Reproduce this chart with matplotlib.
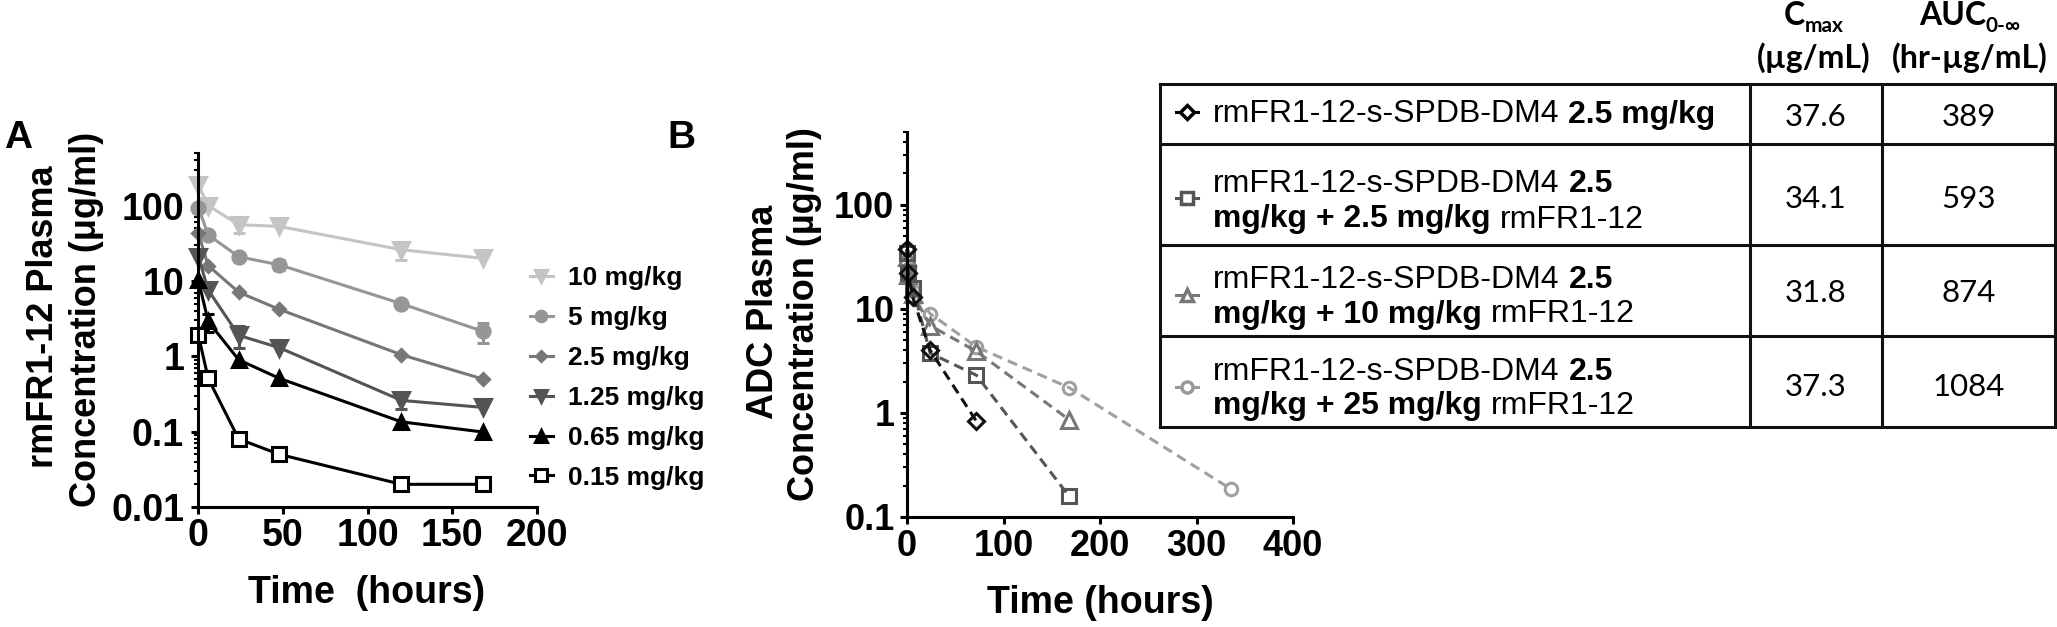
import matplotlib
matplotlib.use('Agg')
import matplotlib.pyplot as plt
from matplotlib.ticker import LogLocator, NullFormatter

plt.rcParams['font.family'] = ['Liberation Sans', 'DejaVu Sans']

# ---------------- data: panel A (rmFR1-12 antibody alone) ----------------
times_a = [0.25, 6, 24, 48, 120, 168]
dose_labels_a = ['10 mg/kg', '5 mg/kg', '2.5 mg/kg', '1.25 mg/kg', '0.65 mg/kg', '0.15 mg/kg']
conc_10 = [190, 100, 56, 53, 26, 20]
conc_5 = [94, 41, 21, 16.4, 5.0, 2.15]
conc_2_5 = [43, 16, 7.1, 4.2, 1.05, 0.5]
conc_1_25 = [21, 7.6, 1.9, 1.3, 0.26, 0.21]
conc_0_65 = [10.3, 2.9, 0.9, 0.51, 0.135, 0.099]
conc_0_15 = [1.9, 0.51, 0.08, 0.05, 0.02, 0.02]
err_10 = [0, 0, 12, 0, 7, 0]
err_5 = [0, 0, 0, 2.5, 0, 0.65]
err_2_5 = [0, 0, 0, 0, 0, 0]
err_1_25 = [0, 0, 0.6, 0, 0.06, 0]
err_0_65 = [0, 0.8, 0, 0, 0, 0]
err_0_15 = [0, 0, 0, 0, 0, 0]
xticks_a = [0, 50, 100, 150, 200]
yticks_a = [0.01, 0.1, 1, 10, 100]
ytick_labels_a = ['0.01', '0.1', '1', '10', '100']

# ---------------- data: panel B (ADC) ----------------
times_b = [0.083, 1, 6, 24, 72, 168, 336]
adc_alone = [37.6, 22.3, 12.9, 4.0, 0.83]
adc_plus_2_5 = [34.1, 22, 16, 3.75, 2.3, 0.158]
adc_plus_10 = [31.8, 21, 14, 6.9, 3.9, 0.86]
adc_plus_25 = [37.3, 24, 15, 9.0, 4.3, 1.75, 0.185]
xticks_b = [0, 100, 200, 300, 400]
yticks_b = [0.1, 1, 10, 100]
ytick_labels_b = ['0.1', '1', '10', '100']

# ---------------- data: table ----------------
table_drug = 'rmFR1-12-s-SPDB-DM4'
table_adc_dose = '2.5'
table_coadmin = ['', '2.5 mg/kg', '10 mg/kg', '25 mg/kg']
cmax_vals = ['37.6', '34.1', '31.8', '37.3']
auc_vals = ['389', '593', '874', '1084']

# ---------------- figure ----------------
W, H, DPI = 2057, 627, 100
fig = plt.figure(figsize=(W / DPI, H / DPI), dpi=DPI)


def fx(px):
    return px / W


def fy(py):
    return 1 - py / H


axA = fig.add_axes([fx(198), fy(507), (537 - 198) / W, (507 - 153) / H])
axB = fig.add_axes([fx(907), fy(517), (1293 - 907) / W, (517 - 132) / H])

SP_LW = 2.2
for ax in (axA, axB):
    ax.set_yscale('log')
    for s in ('top', 'right'):
        ax.spines[s].set_visible(False)
    for s in ('left', 'bottom'):
        ax.spines[s].set_linewidth(SP_LW)
    ax.tick_params(which='major', length=5, width=SP_LW, color='black')
    ax.tick_params(which='minor', length=3, width=1.5, color='black')
    ax.yaxis.set_minor_locator(LogLocator(base=10, subs=range(2, 10)))
    ax.yaxis.set_minor_formatter(NullFormatter())
    ax.xaxis.set_minor_locator(plt.NullLocator())
    ax.patch.set_visible(False)

# ---- Panel A ----
styles_a = [
    ('v', '#c4c4c4', 11, '#c4c4c4'),
    ('o', '#969696', 9.5, '#969696'),
    ('D', '#777777', 6.5, '#777777'),
    ('v', '#545454', 11, '#545454'),
    ('^', '#000000', 10, '#000000'),
    ('s', '#000000', 10, 'white'),
]
concs_a = [conc_10, conc_5, conc_2_5, conc_1_25, conc_0_65, conc_0_15]
errs_a = [err_10, err_5, err_2_5, err_1_25, err_0_65, err_0_15]
handles = []
for conc, err, (mk, col, ms, mfc), lab in zip(concs_a, errs_a, styles_a, dose_labels_a):
    idx = [i for i, e in enumerate(err) if e > 0]
    if idx:
        axA.errorbar([times_a[i] for i in idx], [conc[i] for i in idx],
                     yerr=[err[i] for i in idx], fmt='none', ecolor=col,
                     elinewidth=2.2, capsize=4.3, capthick=2.2, clip_on=False)
    ln, = axA.plot(times_a, conc, color=col, lw=2.2, marker=mk, ms=ms,
                   mfc=mfc, mec=col, mew=2.2, clip_on=False, label=lab)
    handles.append(ln)

axA.set_xlim(0, 200)
axA.set_ylim(0.01, 500)
axA.set_xticks(xticks_a)
axA.set_xticklabels([str(v) for v in xticks_a])
axA.set_yticks(yticks_a)
axA.set_yticklabels(ytick_labels_a)
axA.tick_params(axis='x', pad=3, labelsize=27)
axA.tick_params(axis='y', pad=5, labelsize=27)
for lbl in axA.get_xticklabels() + axA.get_yticklabels():
    lbl.set_fontweight('bold')

fig.legend(handles, dose_labels_a, loc='center left',
           bbox_to_anchor=(fx(530), fy(378)), frameon=False, borderpad=0,
           borderaxespad=0, handlelength=0.87, handletextpad=0.57,
           labelspacing=0.6, prop={'weight': 'bold', 'size': 19},
           markerscale=0.8)

# ---- Panel B ----
series_b = [
    (adc_plus_25, 'o', '#a0a0a0', 9),
    (adc_plus_10, '^', '#777777', 11),
    (adc_plus_2_5, 's', '#555555', 10),
    (adc_alone, 'D', '#111111', 8.5),
]
for vals, mk, col, ms in series_b:
    axB.plot(times_b[:len(vals)], vals, color=col, lw=2.2, ls=(0, (3.3, 2)),
             marker=mk, ms=ms, mfc='none', mec=col, mew=2.2, clip_on=False)
axB.set_xlim(0, 400)
axB.set_ylim(0.1, 500)
axB.set_xticks(xticks_b)
axB.set_xticklabels([str(v) for v in xticks_b])
axB.set_yticks(yticks_b)
axB.set_yticklabels(ytick_labels_b)
axB.tick_params(axis='x', pad=4, labelsize=26)
axB.tick_params(axis='y', pad=4, labelsize=26)
for lbl in axB.get_xticklabels() + axB.get_yticklabels():
    lbl.set_fontweight('bold')

# ---------------- overlay in pixel coordinates ----------------
ov = fig.add_axes([0, 0, 1, 1])
ov.set_xlim(0, W)
ov.set_ylim(H, 0)
ov.axis('off')
renderer = fig.canvas.get_renderer()

BOLD = dict(fontweight='bold', color='black')

# panel letters
ov.text(4, 148, 'A', fontsize=28, ha='left', va='baseline', **BOLD)
ov.text(667, 148, 'B', fontsize=28, ha='left', va='baseline', **BOLD)

# axis labels
ov.text(367, 603, 'Time  (hours)', fontsize=27, ha='center', va='baseline', **BOLD)
ov.text(1100, 613, 'Time (hours)', fontsize=27, ha='center', va='baseline', **BOLD)
for x, y, s in [(53, 317, 'rmFR1-12 Plasma'), (96, 319, 'Concentration (\u03bcg/ml)'),
                (773, 312, 'ADC Plasma'), (814, 314, 'Concentration (\u00b5g/ml)')]:
    ov.text(x, y, s, fontsize=26, rotation=90, rotation_mode='anchor',
            ha='center', va='baseline', **BOLD)


def width_of(s, kw):
    t = ov.text(0, 0, s, **kw)
    w = t.get_window_extent(renderer).width
    t.remove()
    return w


def text_run(x, y, pieces, align='left'):
    """pieces: list of (string, font kwargs, dy, gap_before_px)"""
    arts, widths = [], []
    for s, kw, dy, gap in pieces:
        t = ov.text(0, y + dy, s, ha='left', va='baseline', **kw)
        arts.append((t, gap))
        widths.append(gap + t.get_window_extent(renderer).width)
    total = sum(widths)
    cur = x - total / 2 if align == 'center' else x
    for (t, gap), w in zip(arts, widths):
        t.set_x(cur + gap)
        cur += w


FAM_T = ['Liberation Sans', 'DejaVu Sans']
FAM_H = ['Lato', 'DejaVu Sans']
N_T = dict(fontsize=23, family=FAM_T, color='black')
B_T = dict(fontsize=23, family=FAM_T, fontweight='bold', color='black')
gap_T = width_of('n n', N_T) - width_of('nn', N_T)

# table grid
t_left, t_c1, t_c2, t_right = 1160, 1750, 1882, 2055
row_edges = [84, 144, 245, 336, 427]
for yv in row_edges:
    ov.plot([t_left, t_right], [yv, yv], color='#111111', lw=2.2, solid_capstyle='projecting')
for xv in (t_left, t_c1, t_c2, t_right):
    ov.plot([xv, xv], [row_edges[0], row_edges[-1]], color='#111111', lw=2.2,
            solid_capstyle='projecting')

# header
HB = dict(family=FAM_H, fontweight='bold', color='black')
text_run(1814, 25, [('C', dict(fontsize=23, **HB), 0, 0),
                    ('max', dict(fontsize=15, **HB), 7, 0)], align='center')
text_run(1814, 68, [('(\u00b5g/mL)', dict(fontsize=23, **HB), 0, 0)], align='center')
text_run(1970, 25, [('AUC', dict(fontsize=23, **HB), 0, 0),
                    ('0-\u221e', dict(fontsize=15, **HB), 7, 0)], align='center')
text_run(1970, 68, [('(hr-\u00b5g/mL)', dict(fontsize=23, **HB), 0, 0)], align='center')

# rows
row_marks = [('D', '#000000', 7.5), ('s', '#555555', 8), ('^', '#777777', 9), ('o', '#999999', 8)]
row_mark_y = [112, 198, 295, 387]
line1_base = [122.5, 192.5, 288.5, 379.5]
line2_base = [None, 227.5, 322.5, 414]
num_base = [126.5, 207.5, 302.5, 395.5]
NUM = dict(fontsize=22.5, family=FAM_H, color='black')
for i in range(4):
    mk, col, ms = row_marks[i]
    ov.plot([1176, 1198], [row_mark_y[i]] * 2, color=col, lw=2.2)
    ov.plot([1187], [row_mark_y[i]], marker=mk, ms=ms, mfc='white', mec=col, mew=2.5)
    if table_coadmin[i] == '':
        text_run(1213, line1_base[i], [(table_drug, N_T, 0, 0),
                                       (table_adc_dose + ' mg/kg', B_T, 0, gap_T)])
    else:
        text_run(1213, line1_base[i], [(table_drug, N_T, 0, 0),
                                       (table_adc_dose, B_T, 0, gap_T)])
        text_run(1213, line2_base[i], [('mg/kg + ' + table_coadmin[i], B_T, 0, 0),
                                       ('rmFR1-12', N_T, 0, gap_T)])
    text_run((t_c1 + t_c2) / 2, num_base[i], [(cmax_vals[i], NUM, 0, 0)], align='center')
    text_run((t_c2 + t_right) / 2, num_base[i], [(auc_vals[i], NUM, 0, 0)], align='center')

fig.savefig('out.png', dpi=DPI, facecolor='white')
